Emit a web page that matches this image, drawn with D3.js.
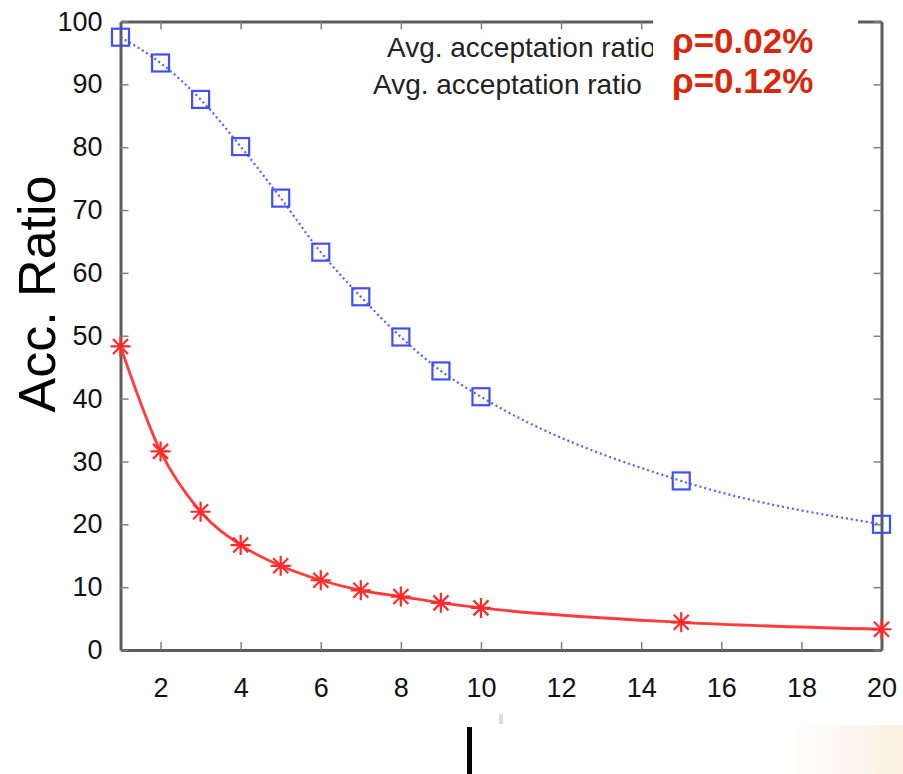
<!DOCTYPE html>
<html>
<head>
<meta charset="utf-8">
<style>
  body { margin: 0; background: #fff; }
  svg { display: block; font-family: "Liberation Sans", Arial, sans-serif; }
  .axis .domain { stroke: #5c5c5c; stroke-width: 3; }
  .axis .tick line { stroke: #808080; stroke-width: 1.5; }
  .axis .tick text { font-size: 27px; fill: #111; }
</style>
</head>
<body>
<script src="https://d3js.org/d3.v7.min.js"></script>
<script>

// values
var xValues = [1, 2, 3, 4, 5, 6, 7, 8, 9, 10, 15, 20];
var accRatio002 = [97.5, 93.4, 87.6, 80.1, 71.9, 63.3, 56.2, 49.8, 44.4, 40.3, 26.9, 20.0];
var accRatio012 = [48.3, 31.6, 22.0, 16.7, 13.4, 11.1, 9.5, 8.5, 7.5, 6.7, 4.4, 3.3];
var xTicks = [2, 4, 6, 8, 10, 12, 14, 16, 18, 20];
var yTicks = [0, 10, 20, 30, 40, 50, 60, 70, 80, 90, 100];
var legendText = ["Avg. acceptation ratio", "Avg. acceptation ratio"];
var rhoLabels = ["\u03C1=0.02%", "\u03C1=0.12%"];

var W = 903, H = 774;
var plotLeft = 120.5, plotRight = 881.5, plotTop = 21.5, plotBottom = 650;

var x = d3.scaleLinear().domain([1, 20]).range([plotLeft, plotRight]);
var y = d3.scaleLinear().domain([0, 100]).range([plotBottom, plotTop]);

var svg = d3.select("body").append("svg")
    .attr("width", W)
    .attr("height", H);

svg.append("rect").attr("width", W).attr("height", H).attr("fill", "#fff");

// bottom-right beige fade
var grad = svg.append("defs").append("linearGradient").attr("id", "beige");
grad.append("stop").attr("offset", "0%").attr("stop-color", "#fff");
grad.append("stop").attr("offset", "100%").attr("stop-color", "#fbf0df");
svg.append("rect")
    .attr("x", 790).attr("y", 725).attr("width", 113).attr("height", 49)
    .attr("fill", "url(#beige)");

// axes, ticks pointing inward on all four sides
svg.append("g")
    .attr("class", "axis")
    .attr("transform", "translate(0," + plotBottom + ")")
    .call(d3.axisBottom(x).tickValues(xTicks).tickSizeInner(-8).tickSizeOuter(0).tickPadding(28));

svg.append("g")
    .attr("class", "axis")
    .attr("transform", "translate(0," + plotTop + ")")
    .call(d3.axisTop(x).tickValues(xTicks).tickSizeInner(-8).tickSizeOuter(0).tickFormat(""));

svg.append("g")
    .attr("class", "axis")
    .attr("transform", "translate(" + plotLeft + ",0)")
    .call(d3.axisLeft(y).tickValues(yTicks).tickSizeInner(-8).tickSizeOuter(0).tickPadding(18));

svg.append("g")
    .attr("class", "axis")
    .attr("transform", "translate(" + plotRight + ",0)")
    .call(d3.axisRight(y).tickValues(yTicks).tickSizeInner(-8).tickSizeOuter(0).tickFormat(""));

// lines
var seriesLine = d3.line()
    .x(function(d, i) { return x(xValues[i]); })
    .y(function(d) { return y(d); })
    .curve(d3.curveMonotoneX);

svg.append("path")
    .datum(accRatio002)
    .attr("d", seriesLine)
    .attr("fill", "none")
    .attr("stroke", "#4f5fff")
    .attr("stroke-width", 2.2)
    .attr("stroke-dasharray", "2,3");

svg.append("path")
    .datum(accRatio012)
    .attr("d", seriesLine)
    .attr("fill", "none")
    .attr("stroke", "#ff3b3b")
    .attr("stroke-width", 2.8);

// blue squares
svg.selectAll(".sq")
    .data(accRatio002)
    .enter().append("rect")
    .attr("class", "sq")
    .attr("x", function(d, i) { return x(xValues[i]) - 8.5; })
    .attr("y", function(d) { return y(d) - 8.5; })
    .attr("width", 17)
    .attr("height", 17)
    .attr("fill", "none")
    .attr("stroke", "#3f50f7")
    .attr("stroke-width", 2.2);

// red asterisks
var r = 10, rd = 7.5;
var starPath = "M" + (-r) + ",0L" + r + ",0M0," + (-r) + "L0," + r +
    "M" + (-rd) + "," + (-rd) + "L" + rd + "," + rd +
    "M" + (-rd) + "," + rd + "L" + rd + "," + (-rd);
svg.selectAll(".star")
    .data(accRatio012)
    .enter().append("path")
    .attr("class", "star")
    .attr("transform", function(d, i) { return "translate(" + x(xValues[i]) + "," + y(d) + ")"; })
    .attr("d", starPath)
    .attr("fill", "none")
    .attr("stroke", "#ff2a2a")
    .attr("stroke-width", 2.2);

// key text (partly hidden by the pasted box)
svg.append("text")
    .attr("x", 387).attr("y", 57)
    .attr("font-size", 28).attr("fill", "#222")
    .text(legendText[0]);
svg.append("text")
    .attr("x", 373).attr("y", 94)
    .attr("font-size", 28).attr("fill", "#222")
    .text(legendText[1]);

svg.append("rect")
    .attr("x", 653).attr("y", 0).attr("width", 205).attr("height", 105)
    .attr("fill", "#fff");

svg.selectAll(".rho")
    .data(rhoLabels)
    .enter().append("text")
    .attr("class", "rho")
    .attr("x", 672)
    .attr("y", function(d, i) { return 53 + i * 40; })
    .attr("font-size", 35)
    .attr("font-weight", "bold")
    .attr("fill", "#d9270d")
    .text(function(d) { return d; });

// y title
svg.append("text")
    .attr("transform", "translate(55,294) rotate(-90)")
    .attr("text-anchor", "middle")
    .attr("font-size", 52)
    .attr("fill", "#000")
    .text("Acc. Ratio");

// stray marks below the plot
svg.append("rect")
    .attr("x", 499).attr("y", 714).attr("width", 4).attr("height", 10)
    .attr("fill", "#ddd");
svg.append("rect")
    .attr("x", 467).attr("y", 727).attr("width", 5).attr("height", 47)
    .attr("fill", "#000");

</script>
</body>
</html>
